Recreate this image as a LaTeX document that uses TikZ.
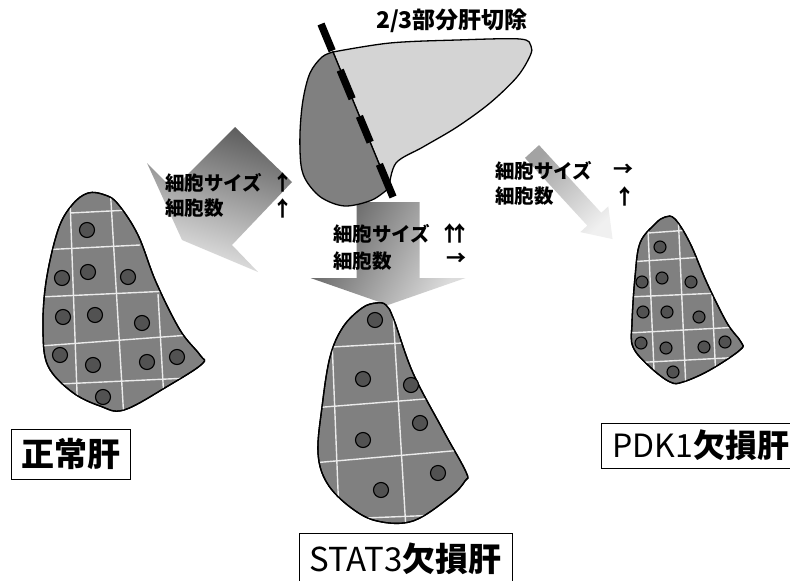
\documentclass[tikz,border=0pt]{standalone}
\usepackage{fontspec}
\usepackage{tikz}
\usetikzlibrary{positioning}

\newfontfamily\jpfont{Noto Sans CJK JP}

\definecolor{liverdark}{gray}{0.5}
\definecolor{liverlight}{gray}{0.83}
\definecolor{celldark}{gray}{0.32}
\definecolor{gridwhite}{gray}{0.92}
\definecolor{arrowdark}{gray}{0.37}
\definecolor{arrowlight}{gray}{0.91}

\begin{document}
\begin{tikzpicture}[
    x = 1pt, y = -1pt,
    liver/.style = {draw, line width=1.3pt, fill=liverdark},
    outline/.style = {draw, line width=1.3pt},
    cell/.style = {circle, draw, line width=1.1pt, fill=celldark, minimum size=15pt, inner sep=0pt},
    smallcell/.style = {cell, minimum size=12pt},
    gridline/.style = {gridwhite, line width=1.4pt},
    cutline/.style = {line width=7.5pt, dash pattern=on 29pt off 21pt on 31pt off 19pt on 28pt off 24pt on 40pt off 10pt},
    infotext/.style = {anchor=west, inner sep=0pt, font=\jpfont\bfseries\fontsize{19.5}{22}\selectfont},
    uparrow/.style = {inner sep=0pt, font=\jpfont\bfseries\fontsize{21}{24}\selectfont},
    flatarrow/.style = {inner sep=0pt, font=\jpfont\bfseries\fontsize{20}{24}\selectfont},
    titletext/.style = {inner sep=0pt, font=\jpfont\bfseries\fontsize{23}{27}\selectfont},
    namebox/.style = {draw, line width=0.8pt, inner sep=0pt, font=\jpfont\bfseries\fontsize{33}{38}\selectfont}
]
\useasboundingbox (0,0) rectangle (790,581);

% Block arrows (shaded)
\shade[top color=arrowdark, bottom color=arrowlight, shading angle=-17]
    (235,127) -- (292,182) -- (232,245) -- (258,272) -- (182,240) -- (147,163) -- (173,189) -- cycle;
\shade[top color=arrowdark, bottom color=arrowlight!95!black, shading angle=60]
    (356.5,202) -- (419.5,202) -- (419.5,278) -- (465.5,278) -- (388,305) -- (310.5,278) -- (356.5,278) -- cycle;
\shade[top color=gray!72, bottom color=gray!12, shading angle=43]
    (539,145.1) -- (601.3,212.8) -- (608.3,206.3) -- (612.6,239.1) -- (580.3,232.1) -- (587.3,225.6) -- (525,157.9) -- cycle;

% Liver before resection
\draw[liver, fill=liverlight] plot[smooth, tension=0.55] coordinates {(333,52) (390,43) (457,40) (520,39) (531,46) (530,56) (517,77) (490,103) (457,127) (423,147) (396,163) (389,188)} -- cycle;
\draw[liver] plot[smooth, tension=0.55] coordinates {(389,188) (372,200) (345,206) (322,198) (307,182) (301,165) (300,133) (303,100) (310,73) (322,57) (333,52)} -- cycle;
\coordinate (cuttop) at (321,24);
\coordinate (cutbot) at (393,197);
\draw[cutline] (cuttop) -- (cutbot);

% Normal liver
\draw[liver, save path=\normalpath] plot[smooth cycle, tension=0.6] coordinates {(88,193) (105,195) (118,204) (138,235) (156,282) (180,330) (200,355) (202,364) (168,386) (124,410) (100,406) (72,392) (48,366) (43,330) (46,282) (58,230) (72,205)};
\begin{scope}
    \clip[use path=\normalpath];
    \draw[gridline] (70,200) -- (78,420);
    \draw[gridline] (110,185) -- (124,420);
    \draw[gridline] (158,294) -- (164,400);
    \draw[gridline] (70,213) -- (130,210);
    \draw[gridline] (40,250) -- (140,245);
    \draw[gridline] (40,297) -- (170,291);
    \draw[gridline] (40,346) -- (190,335);
    \draw[gridline] (60,384) -- (210,377);
\end{scope}
\draw[outline, use path=\normalpath];
\node[cell] (n1) at (87,230) {};
\node[cell] (n2) at (62,278) {};
\node[cell] (n3) at (88,272) {};
\node[cell] (n4) at (128,277) {};
\node[cell] (n5) at (63,317) {};
\node[cell] (n6) at (95,315) {};
\node[cell] (n7) at (142,323) {};
\node[cell] (n8) at (60,355) {};
\node[cell] (n9) at (93,365) {};
\node[cell] (n10) at (147,362) {};
\node[cell] (n11) at (177,357) {};
\node[cell] (n12) at (103,397) {};

% STAT3 deficient liver
\draw[liver, save path=\statpath] plot[smooth cycle, tension=0.6] coordinates {(376,303) (386,305) (394,320) (413,373) (443,430) (466,472) (465,481) (450,497) (413,521) (377,521) (350,507) (327,483) (318,453) (322,407) (330,357) (343,327) (362,308)};
\begin{scope}
    \clip[use path=\statpath];
    \draw[gridline] (332,340) -- (339,515);
    \draw[gridline] (392,295) -- (406,530);
    \draw[gridline] (315,348) -- (420,342);
    \draw[gridline] (312,408) -- (450,397);
    \draw[gridline] (312,463) -- (475,449);
    \draw[gridline] (340,519) -- (440,515);
\end{scope}
\draw[outline, use path=\statpath];
\node[cell] (s1) at (375,320) {};
\node[cell] (s2) at (363,379) {};
\node[cell] (s3) at (411,385) {};
\node[cell] (s4) at (420,423) {};
\node[cell] (s5) at (363,440) {};
\node[cell] (s6) at (438,473) {};
\node[cell] (s7) at (381,490) {};

% PDK1 deficient liver
\draw[liver, save path=\pdkpath] plot[smooth cycle, tension=0.6] coordinates {(665,217) (675,219) (690,243) (707,283) (727,323) (741,342) (740,350) (710,370) (683,382) (670,382) (650,367) (633,347) (632,323) (635,277) (640,243) (655,224)};
\begin{scope}
    \clip[use path=\pdkpath];
    \draw[gridline] (648,230) -- (654,370);
    \draw[gridline] (678,212) -- (686,390);
    \draw[gridline] (712,295) -- (716,380);
    \draw[gridline] (648,233) -- (690,230);
    \draw[gridline] (628,262) -- (705,257);
    \draw[gridline] (628,297) -- (720,293);
    \draw[gridline] (628,333) -- (740,327);
    \draw[gridline] (630,363) -- (745,357);
\end{scope}
\draw[outline, use path=\pdkpath];
\node[smallcell] (p1) at (660,247) {};
\node[smallcell] (p2) at (642,282) {};
\node[smallcell] (p3) at (662,278) {};
\node[smallcell] (p4) at (691,282) {};
\node[smallcell] (p5) at (643,312) {};
\node[smallcell] (p6) at (667,312) {};
\node[smallcell] (p7) at (699,317) {};
\node[smallcell] (p8) at (641,343) {};
\node[smallcell] (p9) at (666,348) {};
\node[smallcell] (p10) at (704,347) {};
\node[smallcell] (p11) at (725,342) {};
\node[smallcell] (p12) at (673,372) {};

% Texts
\node[titletext] (hepatectomy) at (452,21) {2/3部分肝切除};

\node[infotext] (lsize) at (165,183) {細胞サイズ};
\node[infotext] (lnum) at (165,208) {細胞数};
\node[uparrow] (lsizeup) at (283,182) {↑};
\node[uparrow] (lnumup) at (283,208) {↑};

\node[infotext] (csize) at (333,234) {細胞サイズ};
\node[infotext] (cnum) at (333,261) {細胞数};
\node[uparrow] (csizeup) at (455,233) {↑\kern-11pt↑};
\node[flatarrow] (cnumeq) at (456,259) {→};

\node[infotext] (rsize) at (495,171) {細胞サイズ};
\node[infotext] (rnum) at (495,196) {細胞数};
\node[flatarrow] (rsizeeq) at (623,170) {→};
\node[uparrow] (rnumup) at (625,196) {↑};

% Name boxes
\node[namebox, minimum width=119pt, minimum height=50pt] (normal) at (70.5,454) {正常肝};
\node[namebox, minimum width=213pt, minimum height=52pt] (stat3) at (405.5,559) {{\mdseries STAT3}欠損肝};
\node[namebox, minimum width=200pt, minimum height=45pt, font=\jpfont\bfseries\fontsize{32}{36}\selectfont] (pdk1) at (701,445.5) {{\mdseries PDK1}欠損肝};

\end{tikzpicture}
\end{document}
